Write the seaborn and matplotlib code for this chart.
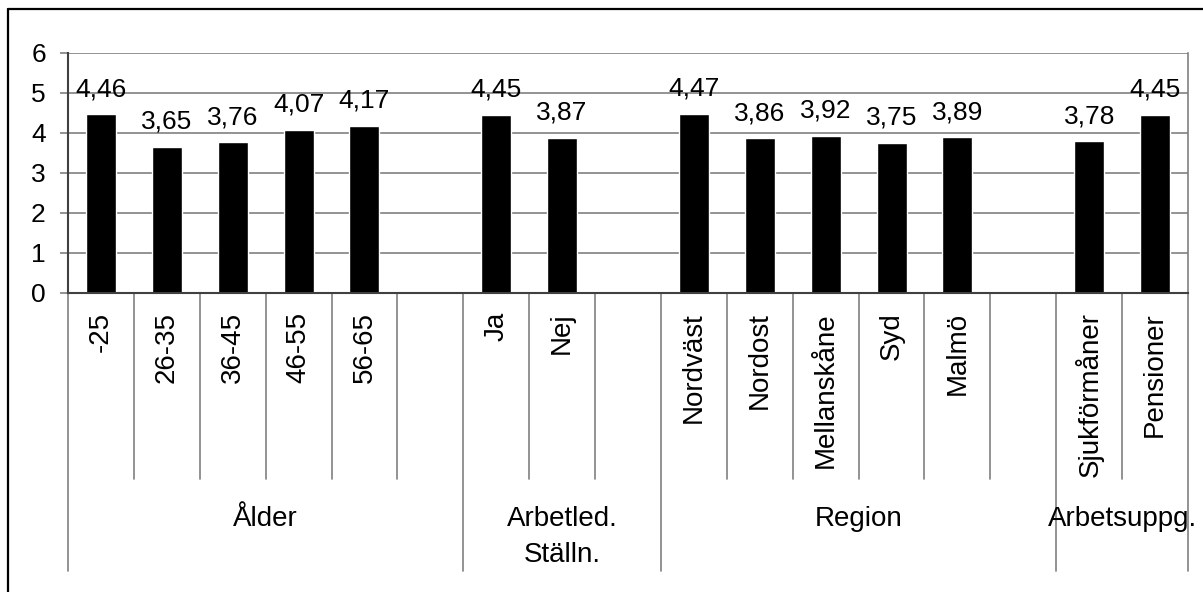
import matplotlib
matplotlib.use("Agg")
import matplotlib.pyplot as plt
import matplotlib.transforms as mtransforms
from matplotlib.lines import Line2D
import pandas as pd
import seaborn as sns

# Category groups and their member categories
group_names = ["Ålder", "Arbetled.\nStälln.", "Region", "Arbetsuppg."]
age_cats = ["-25", "26-35", "36-45", "46-55", "56-65"]
role_cats = ["Ja", "Nej"]
region_cats = ["Nordväst", "Nordost", "Mellanskåne", "Syd", "Malmö"]
task_cats = ["Sjukförmåner", "Pensioner"]

# Mean scores per category
age_vals = [4.46, 3.65, 3.76, 4.07, 4.17]
role_vals = [4.45, 3.87]
region_vals = [4.47, 3.86, 3.92, 3.75, 3.89]
task_vals = [3.78, 4.45]

y_ticks = [0, 1, 2, 3, 4, 5, 6]

group_cats = [age_cats, role_cats, region_cats, task_cats]
group_vals = [age_vals, role_vals, region_vals, task_vals]

# Build slot order: each group followed by an empty spacer slot (except the last)
order, names, vals = [], [], []
bounds = [0]
for gi, (cats, vs) in enumerate(zip(group_cats, group_vals)):
    order += cats
    names += cats
    vals += vs
    if gi < len(group_cats) - 1:
        order.append(f"_spacer{gi}")
    bounds.append(len(order))

df = pd.DataFrame({"kategori": names, "medel": vals})

sns.set_theme(style="white")
plt.rcParams["font.family"] = ["Liberation Sans", "DejaVu Sans"]

W, H = 1203, 592
fig = plt.figure(figsize=(W / 100, H / 100), dpi=100)
ax = fig.add_axes([68 / W, 1 - 293 / H, (1188 - 68) / W, (293 - 52.5) / H])

sns.barplot(data=df, x="kategori", y="medel", order=order, color="black",
            saturation=1, width=0.455, ax=ax, errorbar=None)

ax.set_xlim(-0.5, len(order) - 0.5)
ax.set_ylim(0, 6)
ax.set_yticks(y_ticks)
ax.set_yticklabels([str(t) for t in y_ticks], fontsize=19, color="black")
ax.set_xticks([])
ax.set_xlabel("")
ax.set_ylabel("")

ax.yaxis.grid(True, color="#808080", linewidth=1.2)
ax.set_axisbelow(True)
ax.tick_params(axis="y", direction="out", length=6, width=1.2, color="#808080",
               pad=10, left=True)

ax.spines["top"].set_visible(False)
ax.spines["right"].set_color("#808080")
ax.spines["right"].set_linewidth(1.2)
ax.spines["left"].set_color("#404040")
ax.spines["left"].set_linewidth(1.5)
ax.spines["bottom"].set_color("#404040")
ax.spines["bottom"].set_linewidth(1.5)

# Value labels above the bars, decimal comma
for bar in ax.containers[0]:
    h = bar.get_height()
    ax.annotate(f"{h:.2f}".replace(".", ","),
                (bar.get_x() + bar.get_width() / 2, h),
                xytext=(0, 13), textcoords="offset points",
                ha="center", va="baseline", fontsize=19, color="black")

# Multi-level category axis below the plot
trans = mtransforms.blended_transform_factory(ax.transData, fig.transFigure)


def fy(px):
    return 1 - px / H


for k in range(len(order) + 1):
    bottom = 571 if k in bounds else 479
    ax.add_line(Line2D([k - 0.5, k - 0.5], [fy(293), fy(bottom)], transform=trans,
                       color="#808080", linewidth=1.2, clip_on=False))

for i, name in enumerate(order):
    if name.startswith("_spacer"):
        continue
    ax.text(i, fy(312), name, transform=trans, rotation=90, ha="center", va="top",
            fontsize=20, color="black")

for gi, gname in enumerate(group_names):
    cx = (bounds[gi] - 0.5 + bounds[gi + 1] - 0.5) / 2
    for li, line in enumerate(gname.split("\n")):
        ax.text(cx, fy(526 + li * 36), line, transform=trans, ha="center",
                va="baseline", fontsize=20, color="black")

# Chart border
fig.add_artist(Line2D([8 / W, 8 / W], [fy(9), 0], transform=fig.transFigure,
                      color="black", linewidth=1.6))
fig.add_artist(Line2D([8 / W, 1], [fy(9), fy(9)], transform=fig.transFigure,
                      color="black", linewidth=1.6))

fig.savefig("out.png", dpi=100, facecolor="white")
